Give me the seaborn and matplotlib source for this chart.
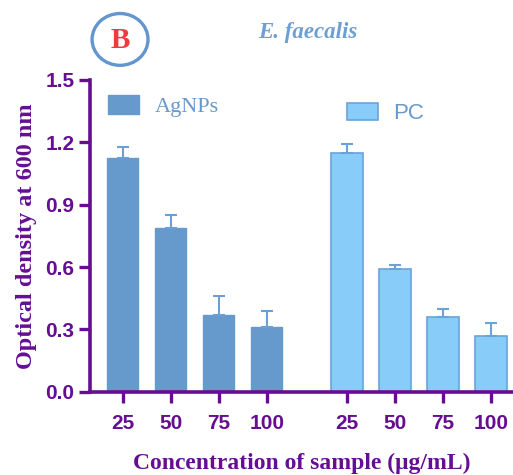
import numpy as np
import pandas as pd
import matplotlib
matplotlib.use("Agg")
import matplotlib.pyplot as plt
from matplotlib.patches import Ellipse
import seaborn as sns

# data
conc = ["25", "50", "75", "100"]
agnps_od = [1.125, 0.79, 0.37, 0.31]
agnps_err = [0.05, 0.06, 0.09, 0.08]
pc_od = [1.15, 0.59, 0.36, 0.27]
pc_err = [0.04, 0.02, 0.04, 0.06]

purple = "#650E94"
ag_color = "#6699CC"
pc_color = "#88CDF9"
pc_edge = "#6AA3D8"

sns.set_theme(style="ticks")
plt.rcParams["font.family"] = ["Liberation Sans", "DejaVu Sans"]

# bar positions: two groups of four, with a gap
group_gap = 4.67
pos_ag = np.arange(len(conc), dtype=float)
pos_pc = pos_ag + group_gap

df_ag = pd.DataFrame({"x": pos_ag, "od": agnps_od})
df_pc = pd.DataFrame({"x": pos_pc, "od": pc_od})

fig = plt.figure(figsize=(5.13, 4.75), dpi=100)
ax = fig.add_axes([0.175, 0.175, 0.825, 0.657])

sns.barplot(data=df_ag, x="x", y="od", native_scale=True, width=0.65,
            color=ag_color, edgecolor=ag_color, linewidth=1, ax=ax,
            label="AgNPs", errorbar=None)
sns.barplot(data=df_pc, x="x", y="od", native_scale=True, width=0.65,
            color=pc_color, edgecolor=pc_edge, linewidth=1.2, ax=ax,
            label="PC", errorbar=None, saturation=1)
for p in ax.patches[:4]:
    p.set_facecolor(ag_color)

# upward-only error bars
ax.errorbar(pos_ag, agnps_od, yerr=[np.zeros(4), agnps_err], fmt="none",
            ecolor="#6E9FD2", elinewidth=1.5, capsize=4.5, capthick=1.5)
ax.errorbar(pos_pc, pc_od, yerr=[np.zeros(4), pc_err], fmt="none",
            ecolor=pc_edge, elinewidth=1.5, capsize=4.5, capthick=1.5)

ax.set_xlim(-0.69, pos_pc[-1] + 0.46)
ax.set_ylim(0, 1.5)
ax.set_yticks([0, 0.3, 0.6, 0.9, 1.2, 1.5])
ax.set_yticklabels(["0.0", "0.3", "0.6", "0.9", "1.2", "1.5"])
ax.set_xticks(np.concatenate([pos_ag, pos_pc]))
ax.set_xticklabels(conc + conc)

for s in ["top", "right"]:
    ax.spines[s].set_visible(False)
for s in ["left", "bottom"]:
    ax.spines[s].set_color(purple)
    ax.spines[s].set_linewidth(2.6)
ax.tick_params(colors=purple, width=2.4, length=8, labelsize=15)
ax.tick_params(axis="x", pad=8)
ax.tick_params(axis="y", pad=3)
for lab in ax.get_xticklabels() + ax.get_yticklabels():
    lab.set_fontweight("bold")

ax.set_xlabel("Concentration of sample (\u03bcg/mL)", family="Liberation Serif",
              fontsize=17, fontweight="bold", color=purple, labelpad=14)
ax.set_ylabel("Optical density at 600 nm", family="Liberation Serif",
              fontsize=17.5, fontweight="bold", color=purple, labelpad=6)

# legends, placed separately like the original
h, l = ax.get_legend_handles_labels()
leg1 = ax.legend([h[0]], [l[0]], loc="upper left", bbox_to_anchor=(-0.005, 1.015),
                 frameon=False, handlelength=1.4, handleheight=0.9,
                 handletextpad=0.7,
                 prop={"family": "Liberation Serif", "size": 16})
for t in leg1.get_texts():
    t.set_color(ag_color)
ax.add_artist(leg1)
leg2 = ax.legend([h[1]], [l[1]], loc="upper left", bbox_to_anchor=(0.56, 0.99),
                 frameon=False, handlelength=1.4, handleheight=0.8,
                 handletextpad=0.7,
                 prop={"family": "Liberation Sans", "size": 16})
for t in leg2.get_texts():
    t.set_color(ag_color)

# title and panel letter
fig.text(0.60, 0.932, "E. faecalis", family="Liberation Serif", style="italic",
         fontweight="bold", fontsize=16.5, color="#6E9FD2", ha="center", va="center")
circ = Ellipse((0.234, 0.917), 0.109, 0.109, transform=fig.transFigure, fill=False,
               edgecolor="#6395CF", linewidth=2.4)
fig.add_artist(circ)
fig.text(0.234, 0.915, "B", family="Liberation Serif", fontweight="bold",
         fontsize=21, color="#EE3B3B", ha="center", va="center")

fig.savefig("out.png", dpi=100)
